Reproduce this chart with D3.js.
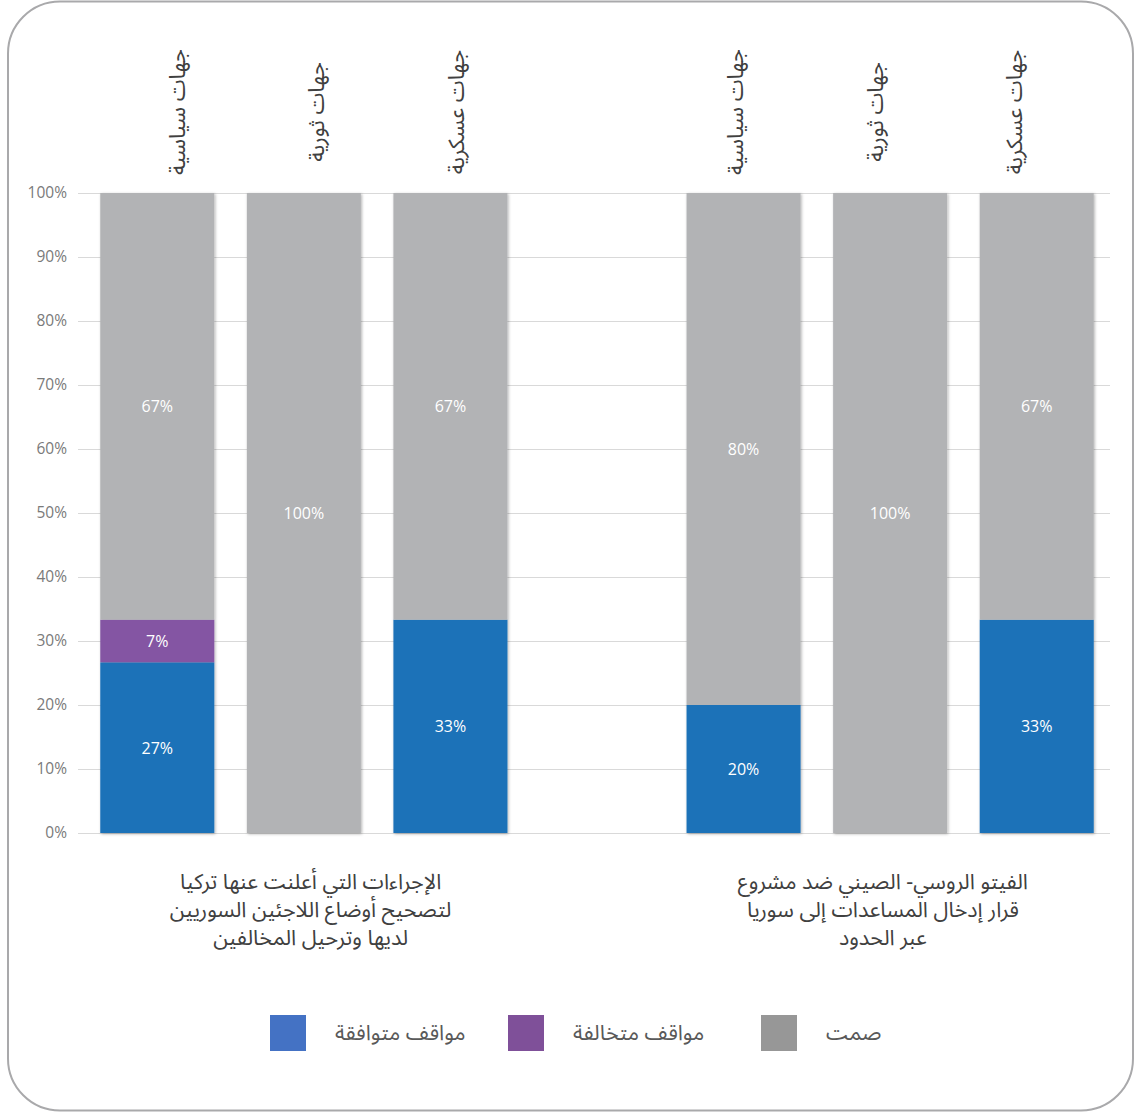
<!DOCTYPE html>
<html lang="ar">
<head>
<meta charset="utf-8">
<script src="https://cdn.jsdelivr.net/npm/d3@7"></script>
<style>
  html, body { margin: 0; padding: 0; background: #fff; }
  svg { display: block; }
  .ar { font-family: "Noto Sans Arabic", "Noto Sans", "DejaVu Sans", sans-serif; }
  .num { font-family: "Open Sans", "Noto Sans", sans-serif; }
</style>
</head>
<body>
<svg id="chart" width="1134" height="1112"></svg>
<script>
// ---- data ----
const categories = ["جهات سياسية", "جهات ثورية", "جهات عسكرية", "جهات سياسية", "جهات ثورية", "جهات عسكرية"];
const groupOfCategory = [0, 0, 0, 1, 1, 1];
const slotKeys = ["0", "1", "2", "gap", "3", "4", "5"];
const seriesAgree = [0.2667, 0, 0.3333, 0.2, 0, 0.3333];
const seriesDisagree = [0.0667, 0, 0, 0, 0, 0];
const seriesSilent = [0.6667, 1, 0.6667, 0.8, 1, 0.6667];
const seriesNames = ["مواقف متوافقة", "مواقف متخالفة", "صمت"];
const groupLabels = [
  ["الإجراءات التي أعلنت عنها تركيا", "لتصحيح أوضاع اللاجئين السوريين", "لديها وترحيل المخالفين"],
  ["الفيتو الروسي- الصيني ضد مشروع", "قرار إدخال المساعدات إلى سوريا", "عبر الحدود"]
];
const yTicks = [0, 0.1, 0.2, 0.3, 0.4, 0.5, 0.6, 0.7, 0.8, 0.9, 1.0];

// ---- styles ----
const barColors = ["#1a72b8", "#8455a3", "#b2b3b5"];
const legendColors = ["#4472c4", "#7f5099", "#979797"];

const svg = d3.select("#chart");

// frame
svg.append("rect")
  .attr("x", 8).attr("y", 1.5).attr("width", 1125).attr("height", 1109)
  .attr("rx", 52).attr("ry", 52)
  .attr("fill", "#fff").attr("stroke", "#a9a9ab").attr("stroke-width", 2);

const defs = svg.append("defs");
const f = defs.append("filter").attr("id", "shadow")
  .attr("x", "-10%").attr("y", "-10%").attr("width", "120%").attr("height", "120%");
f.append("feDropShadow").attr("dx", 1).attr("dy", 1).attr("stdDeviation", 1.5)
  .attr("flood-color", "#000").attr("flood-opacity", 0.3);

// scales
const x = d3.scaleBand().domain(slotKeys).range([84, 1110]).paddingInner(0.222).paddingOuter(0.111);
const xLabel = d3.scaleBand().domain(slotKeys).range([108, 1085]).padding(0);
const y = d3.scaleLinear().domain([0, 1]).range([833, 193]);

// gridlines
svg.append("g").selectAll("line").data(yTicks).join("line")
  .attr("x1", 78).attr("x2", 1110)
  .attr("y1", d => Math.round(y(d)) + 0.5).attr("y2", d => Math.round(y(d)) + 0.5)
  .attr("stroke", "#d9d9d9").attr("stroke-width", 1);

// y axis labels
const yAxis = d3.axisLeft(y).tickValues(yTicks).tickFormat(d3.format(".0%")).tickSize(0).tickPadding(0);
const yg = svg.append("g").attr("transform", "translate(67,0)").call(yAxis);
yg.select(".domain").remove();
yg.selectAll("text").attr("font-size", 15.5).attr("fill", "#7a7a7a")
  .attr("font-family", "'Open Sans', 'Noto Sans', sans-serif");

// stacked data
const catKeys = slotKeys.filter(k => k !== "gap");
const rows = categories.map((c, i) => ({
  key: catKeys[i],
  agree: seriesAgree[i], disagree: seriesDisagree[i], silent: seriesSilent[i]
}));
const stack = d3.stack().keys(["agree", "disagree", "silent"]);
const layers = stack(rows);

// one group per bar so the shadow is cast by the whole column
const barGroups = svg.append("g").selectAll("g").data(rows).join("g")
  .attr("filter", "url(#shadow)");
barGroups.each(function (row, ri) {
  const segs = layers.map((layer, li) => ({ li, d: layer[ri] })).filter(s => s.d[1] - s.d[0] > 0);
  d3.select(this).selectAll("rect").data(segs).join("rect")
    .attr("x", s => x(row.key))
    .attr("width", x.bandwidth())
    .attr("y", s => y(Math.min(1, s.d[1])))
    .attr("height", s => y(s.d[0]) - y(Math.min(1, s.d[1])))
    .attr("fill", s => barColors[s.li]);
});

// data labels
layers.forEach((layer, li) => {
  svg.append("g").selectAll("text")
    .data(layer.filter(d => d[1] - d[0] > 0)).join("text")
    .attr("class", "num")
    .attr("x", d => x(d.data.key) + x.bandwidth() / 2)
    .attr("y", d => y((d[0] + Math.min(1, d[1])) / 2))
    .attr("text-anchor", "middle").attr("dominant-baseline", "central")
    .attr("font-size", 16).attr("fill", "#ffffff")
    .text(d => d3.format(".0%")(d[1] - d[0]));
});

// top category labels (rotated)
svg.append("g").selectAll("text").data(categories).join("text")
  .attr("class", "ar")
  .attr("transform", (d, i) => `translate(${xLabel(catKeys[i]) + xLabel.bandwidth() / 2},112) rotate(-90)`)
  .attr("text-anchor", "middle").attr("dominant-baseline", "central")
  .attr("font-size", 22).attr("fill", "#404040")
  .text(d => d);

// group labels
groupLabels.forEach((lines, gi) => {
  const members = catKeys.filter((k, i) => groupOfCategory[i] === gi);
  const mid = members[1];
  const cx = ((x(mid) + x.bandwidth() / 2) + (xLabel(mid) + xLabel.bandwidth() / 2)) / 2;
  lines.forEach((ln, li) => {
    svg.append("text").attr("class", "ar")
      .attr("x", cx).attr("y", 882 + li * 28)
      .attr("text-anchor", "middle").attr("dominant-baseline", "central")
      .attr("font-size", 21.5).attr("fill", "#404040")
      .text(ln);
  });
});

// legend
const legendX = [270, 508, 761];
const lg = svg.append("g");
seriesNames.forEach((name, i) => {
  lg.append("rect").attr("x", legendX[i]).attr("y", 1015).attr("width", 36).attr("height", 36)
    .attr("fill", legendColors[i]);
  lg.append("text").attr("class", "ar")
    .attr("x", legendX[i] + 65).attr("y", 1033)
    .attr("text-anchor", "start").attr("dominant-baseline", "central")
    .attr("font-size", 21.5).attr("fill", "#595959")
    .text(name);
});
</script>
</body>
</html>
